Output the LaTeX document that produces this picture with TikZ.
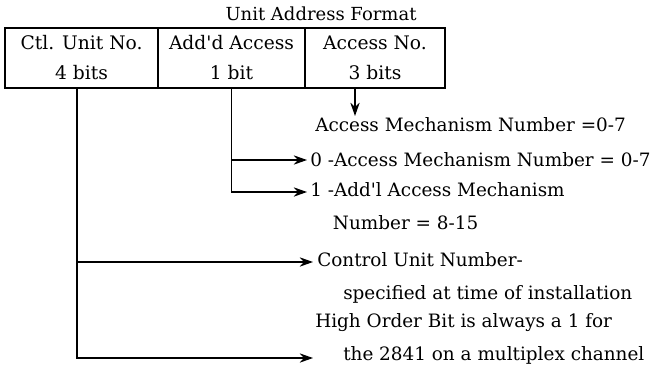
\documentclass[tikz,border=0pt]{standalone}
\usepackage{fontspec}
\setmainfont{DejaVu Serif}
\usetikzlibrary{arrows.meta}
\begin{document}
\begin{tikzpicture}[x=0.75pt,y=-0.75pt,
  cell/.style={draw,line width=1.1pt,minimum height=45pt,inner sep=0pt,align=center,font=\fontsize{14}{22.5}\selectfont},
  lbl/.style={anchor=west,inner sep=0pt,align=left,font=\fontsize{13.8}{24.8}\selectfont},
  arr/.style={line width=1.1pt,-{Stealth[length=10pt,width=7pt]}}]
\useasboundingbox (0,0) rectangle (655,379);
\node[font=\fontsize{13.5}{14}\selectfont] (title) at (321,14) {Unit Address Format};
\node[cell,minimum width=114.75pt] (c1) at (81.5,58) {Ctl. Unit No.\\4 bits};
\node[cell,minimum width=110.25pt] (c2) at (231.5,58) {Add\textquotesingle d Access\\1 bit};
\node[cell,minimum width=105pt] (c3) at (375,58) {Access No.\\3 bits};
\node[lbl] (am) at (315,125) {Access Mechanism Number =0-7};
\node[lbl] (a0) at (310,160) {0 -Access Mechanism Number = 0-7};
\node[lbl,anchor=north west] (a1) at (310,182) {1 -Add\textquotesingle l Access Mechanism\\\hspace*{17pt}Number = 8-15};
\node[lbl,anchor=north west] (cu) at (317,252) {Control Unit Number-\\\hspace*{19.5pt}specified at time of installation};
\node[lbl,anchor=north west] (hb) at (315,313) {High Order Bit is always a 1 for\\\hspace*{21pt}the 2841 on a multiplex channel};
\coordinate (hbend) at (313,358);
\coordinate (cuend) at (313,262);
\coordinate (a1end) at (307,192);
\coordinate (a0end) at (307,160);
\coordinate (amend) at (355,116);
\draw[arr] (c3.south -| amend) -- (amend);
\draw[arr] (c2.south) |- (a0end);
\draw[arr] (c2.south) |- (a1end);
\draw[arr] (c1.south -| 77,0) |- (cuend);
\draw[arr] (c1.south -| 77,0) |- (hbend);
\end{tikzpicture}
\end{document}
